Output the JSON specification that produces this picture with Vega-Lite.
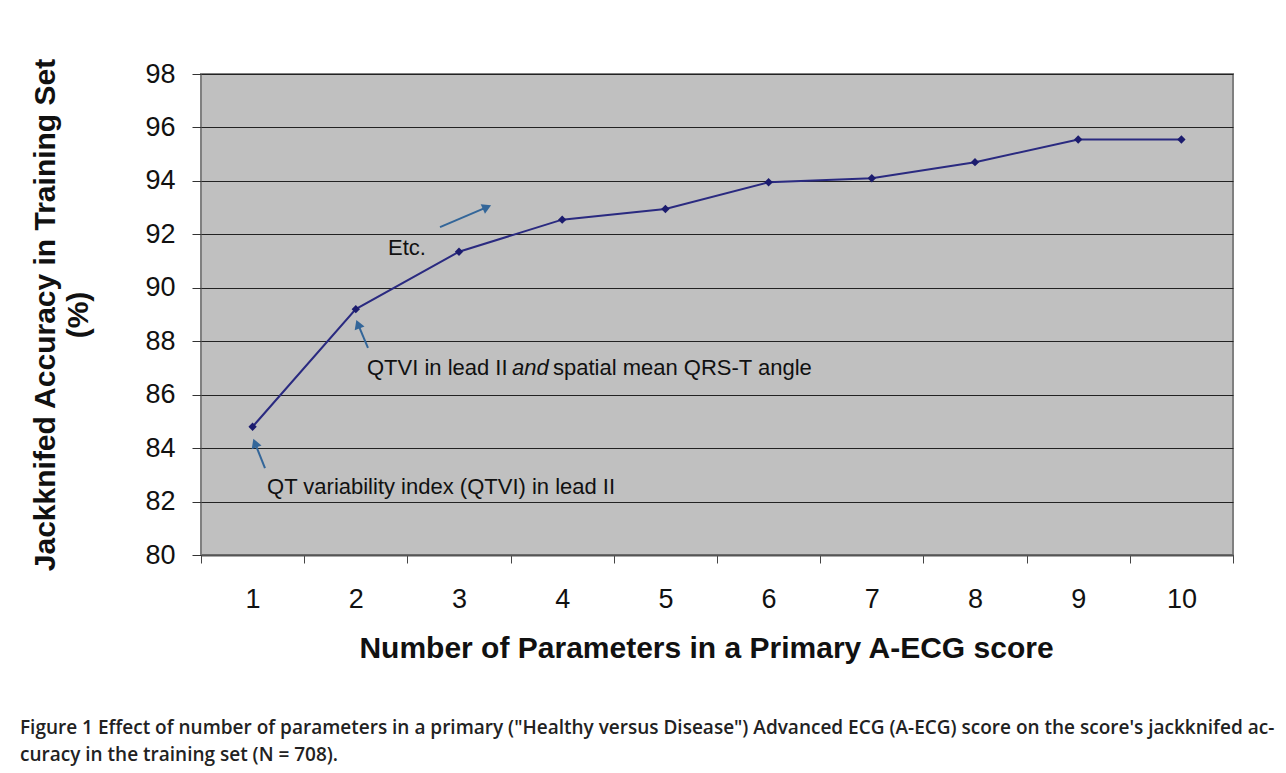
{
  "$schema": "https://vega.github.io/schema/vega-lite/v6.json",
  "width": 1032,
  "height": 481,
  "autosize": {"type": "none"},
  "padding": {"left": 201, "top": 74, "right": 53, "bottom": 218},
  "background": "white",
  "datasets": {
    "series": [
      {"params": 1, "acc": 84.8},
      {"params": 2, "acc": 89.2},
      {"params": 3, "acc": 91.35},
      {"params": 4, "acc": 92.55},
      {"params": 5, "acc": 92.95},
      {"params": 6, "acc": 93.95},
      {"params": 7, "acc": 94.1},
      {"params": 8, "acc": 94.7},
      {"params": 9, "acc": 95.55},
      {"params": 10, "acc": 95.55}
    ],
    "arrows": [
      {"arrow": 1, "acc": 83.25, "x": 1.12, "x2": 1.023, "acc2": 84.19},
      {"arrow": 2, "acc": 87.75, "x": 2.118, "x2": 2.021, "acc2": 88.64},
      {"arrow": 3, "acc": 92.27, "x": 2.816, "x2": 3.271, "acc2": 93.02}
    ],
    "notes": [
      {"label": "QT variability index (QTVI) in lead II", "x": 1.14, "acc": 82.54},
      {"label": "QTVI in lead II", "x": 2.108, "acc": 87.0},
      {"label": "spatial mean QRS-T angle", "x": 3.911, "acc": 87.0},
      {"label": "Etc.", "x": 2.312, "acc": 91.49}
    ],
    "notesItalic": [
      {"label": "and", "x": 3.514, "acc": 87.0}
    ]
  },
  "title": {
    "text": [
      "Figure 1 Effect of number of parameters in a primary (\"Healthy versus Disease\") Advanced ECG (A-ECG) score on the score's jackknifed ac-",
      "curacy in the training set (N = 708)."
    ],
    "orient": "bottom",
    "anchor": "start",
    "frame": "group",
    "dx": -181,
    "offset": 56,
    "font": "Open Sans",
    "fontSize": 19,
    "fontWeight": 600,
    "color": "#222222",
    "lineHeight": 27
  },
  "config": {
    "view": {"fill": "#c0c0c0", "stroke": "#808080", "strokeWidth": 2},
    "font": "Liberation Sans"
  },
  "layer": [
    {
      "data": {"name": "series"},
      "encoding": {
        "x": {
          "field": "params",
          "type": "ordinal",
          "bandPosition": 0.5,
          "scale": {"type": "band", "paddingInner": 0, "paddingOuter": 0},
          "axis": {
            "title": "Number of Parameters in a Primary A-ECG score",
            "labelAngle": 0,
            "tickBand": "extent",
            "tickSize": 8,
            "tickColor": "#444444",
            "domainColor": "#555555",
            "domainWidth": 2,
            "grid": false,
            "labelFontSize": 27,
            "labelPadding": 23,
            "labelColor": "#111111",
            "titleFontSize": 30,
            "titleFontWeight": "bold",
            "titleColor": "#111111",
            "titlePadding": 21,
            "titleX": 505
          }
        },
        "y": {
          "field": "acc",
          "type": "quantitative",
          "scale": {"domain": [80, 98], "nice": false, "zero": false},
          "axis": {
            "title": ["Jackknifed Accuracy in Training Set", "(%)"],
            "values": [80, 82, 84, 86, 88, 90, 92, 94, 96, 98],
            "grid": true,
            "gridColor": "#222222",
            "gridWidth": 1,
            "domain": false,
            "tickSize": 9,
            "tickColor": "#333333",
            "labelFontSize": 27,
            "labelPadding": 17,
            "labelColor": "#111111",
            "titleFontSize": 30,
            "titleLineHeight": 33,
            "titleFontWeight": "bold",
            "titleColor": "#111111",
            "titlePadding": 51
          }
        }
      },
      "layer": [
        {"mark": {"type": "line", "color": "#2a2a80", "strokeWidth": 2}},
        {"mark": {"type": "point", "shape": "diamond", "filled": true, "color": "#1c1c6e", "opacity": 1, "size": 70}}
      ]
    },
    {
      "encoding": {
        "x": {"field": "x", "type": "quantitative", "scale": {"domain": [0.5, 10.5], "nice": false, "zero": false}, "axis": null},
        "y": {"field": "acc", "type": "quantitative", "scale": {"domain": [80, 98], "nice": false, "zero": false}}
      },
      "layer": [
        {
          "data": {"name": "arrows"},
          "mark": {"type": "rule", "color": "#336699", "strokeWidth": 2},
          "encoding": {"x2": {"field": "x2"}, "y2": {"field": "acc2"}}
        },
        {
          "data": {"name": "arrows"},
          "transform": [{"filter": "datum.arrow < 3"}],
          "mark": {"type": "point", "shape": "triangle-up", "filled": true, "color": "#336699", "opacity": 1, "size": 110, "angle": -21},
          "encoding": {"x": {"field": "x2", "type": "quantitative"}, "y": {"field": "acc2", "type": "quantitative"}}
        },
        {
          "data": {"name": "arrows"},
          "transform": [{"filter": "datum.arrow == 3"}],
          "mark": {"type": "point", "shape": "triangle-up", "filled": true, "color": "#336699", "opacity": 1, "size": 110, "angle": 66},
          "encoding": {"x": {"field": "x2", "type": "quantitative"}, "y": {"field": "acc2", "type": "quantitative"}}
        },
        {
          "data": {"name": "notes"},
          "mark": {"type": "text", "align": "left", "baseline": "middle", "fontSize": 22, "color": "#111111", "font": "Liberation Sans"},
          "encoding": {"text": {"field": "label"}}
        },
        {
          "data": {"name": "notesItalic"},
          "mark": {"type": "text", "align": "left", "baseline": "middle", "fontSize": 22, "fontStyle": "italic", "color": "#111111", "font": "Liberation Sans"},
          "encoding": {"text": {"field": "label"}}
        }
      ]
    }
  ],
  "resolve": {"scale": {"x": "independent"}}
}
